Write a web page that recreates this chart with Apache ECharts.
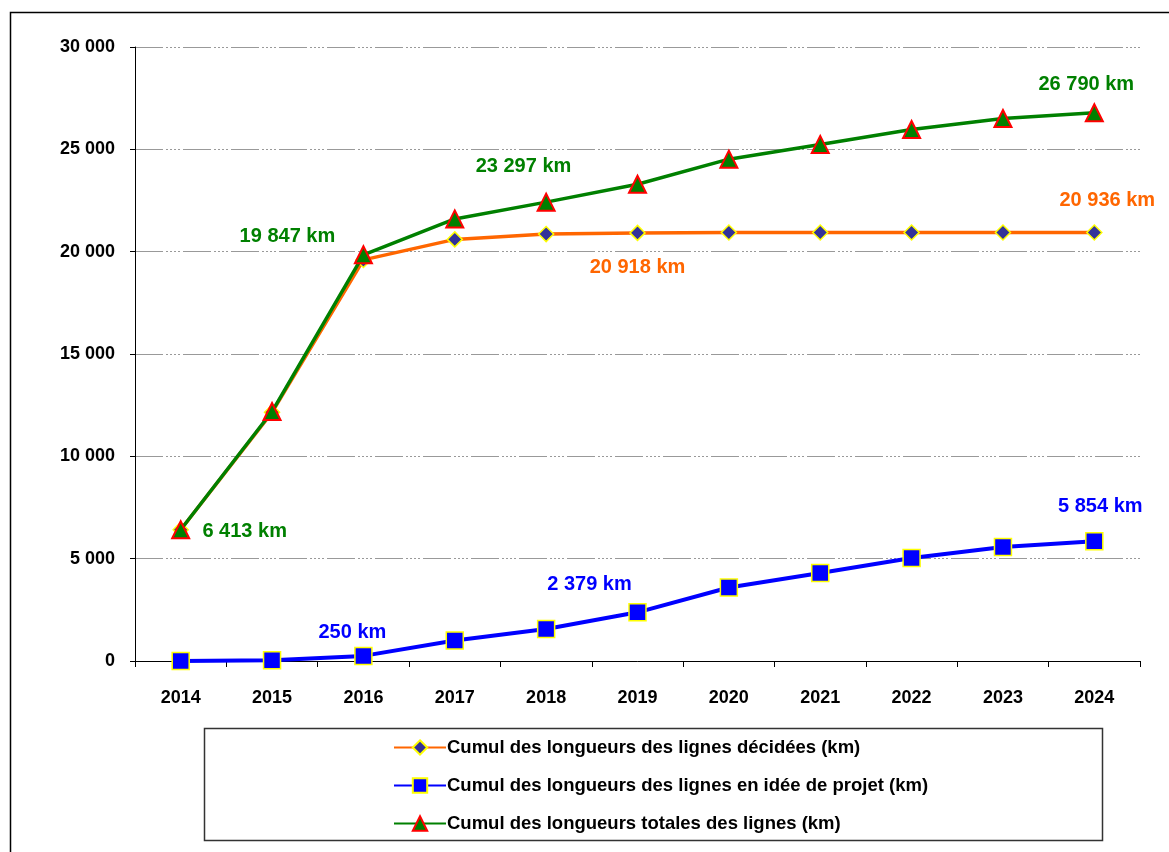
<!DOCTYPE html>
<html>
<head>
<meta charset="utf-8">
<script src="https://cdn.jsdelivr.net/npm/echarts@6/dist/echarts.min.js"></script>
<style>
html,body{margin:0;padding:0;background:#fff;}
#chart{width:1169px;height:852px;}
</style>
</head>
<body>
<div id="chart"></div>
<script>
const years = ['2014','2015','2016','2017','2018','2019','2020','2021','2022','2023','2024'];
const decidees = [6413, 12150, 19597, 20600, 20860, 20918, 20936, 20936, 20936, 20936, 20936];
const projet = [0, 40, 250, 1000, 1560, 2379, 3590, 4300, 5030, 5570, 5854];
const totales = [6413, 12190, 19847, 21600, 22420, 23297, 24520, 25240, 25970, 26510, 26790];
const seriesNames = [
  'Cumul des longueurs des lignes décidées (km)',
  'Cumul des longueurs des lignes en idée de projet (km)',
  'Cumul des longueurs totales des lignes (km)'
];
const yTicks = [0, 5000, 10000, 15000, 20000, 25000, 30000];

// which points carry a label, and where (style only)
const labelDecidees = {5: [0, 35], 10: [13, -32]};
const labelProjet = {2: [-11, -23], 5: [-48, -28], 10: [6, -35]};
const labelTotales = {0: [64, 2], 2: [-76, -18], 5: [-114, -18], 10: [-8, -28]};

const fmt = v => String(Math.round(v)).replace(/\B(?=(\d{3})+(?!\d))/g, ' ');
const FONT = '"Liberation Sans",Arial,sans-serif';

function buildData(values, labels, color) {
  return values.map((v, i) => {
    if (labels[i]) {
      return {
        value: v,
        label: {
          show: true,
          position: 'inside',
          offset: labels[i],
          formatter: p => fmt(p.value) + ' km',
          color: color,
          fontFamily: FONT,
          fontWeight: 'bold',
          fontSize: 20
        }
      };
    }
    return v;
  });
}

const chart = echarts.init(document.getElementById('chart'), null, {renderer: 'canvas'});
chart.setOption({
  backgroundColor: '#fff',
  animation: false,
  graphic: [
    {type: 'rect', shape: {x: 10.5, y: 12.5, width: 1200, height: 900}, style: {fill: 'none', stroke: '#000', lineWidth: 1.5}, z: -10},
    {type: 'rect', shape: {x: 204.5, y: 728.5, width: 898, height: 112}, style: {fill: '#fff', stroke: '#333', lineWidth: 1.5}, z: -5}
  ],
  grid: {left: 135, right: 29, top: 47, bottom: 191, containLabel: false},
  legend: {
    orient: 'vertical',
    left: 388,
    top: 733,
    itemGap: 19,
    itemWidth: 52,
    itemHeight: 18,
    data: [seriesNames[0], seriesNames[1], seriesNames[2]],
    textStyle: {fontFamily: FONT, fontWeight: 'bold', fontSize: 18.5, color: '#000', padding: [0, 0, 0, -4]}
  },
  xAxis: {
    type: 'category',
    data: years,
    boundaryGap: true,
    axisLine: {lineStyle: {color: '#000', width: 1}},
    axisTick: {show: true, length: 6, inside: false, lineStyle: {color: '#000'}},
    axisLabel: {margin: 28, color: '#000', fontFamily: FONT, fontWeight: 'bold', fontSize: 18},
    splitLine: {show: false}
  },
  yAxis: {
    type: 'value',
    min: yTicks[0],
    max: yTicks[yTicks.length - 1],
    interval: 5000,
    axisLine: {show: true, lineStyle: {color: '#000', width: 1}},
    axisTick: {show: true, length: 5, lineStyle: {color: '#000'}},
    axisLabel: {margin: 20, color: '#000', fontFamily: FONT, fontWeight: 'bold', fontSize: 18, formatter: v => fmt(v)},
    splitLine: {show: true, lineStyle: {color: '#999', width: 1.2, type: [28, 3, 2, 2, 2, 2, 2, 2, 2, 3]}}
  },
  series: [
    {
      name: seriesNames[0],
      type: 'line',
      data: buildData(decidees, labelDecidees, '#FF6600'),
      symbol: 'diamond',
      symbolSize: 15,
      lineStyle: {color: '#FF6600', width: 3.5},
      itemStyle: {color: '#333399', borderColor: '#FFFF00', borderWidth: 1.5},
      z: 3
    },
    {
      name: seriesNames[1],
      type: 'line',
      data: buildData(projet, labelProjet, '#0000FF'),
      symbol: 'rect',
      symbolSize: 17,
      lineStyle: {color: '#0000FF', width: 4},
      itemStyle: {color: '#0000FF', borderColor: '#FFFF00', borderWidth: 1.5},
      z: 3
    },
    {
      name: seriesNames[2],
      type: 'line',
      data: buildData(totales, labelTotales, '#008000'),
      symbol: 'triangle',
      symbolSize: 17,
      lineStyle: {color: '#008000', width: 3.5},
      itemStyle: {color: '#008000', borderColor: '#FF0000', borderWidth: 2},
      z: 4
    }
  ]
});
</script>
</body>
</html>
